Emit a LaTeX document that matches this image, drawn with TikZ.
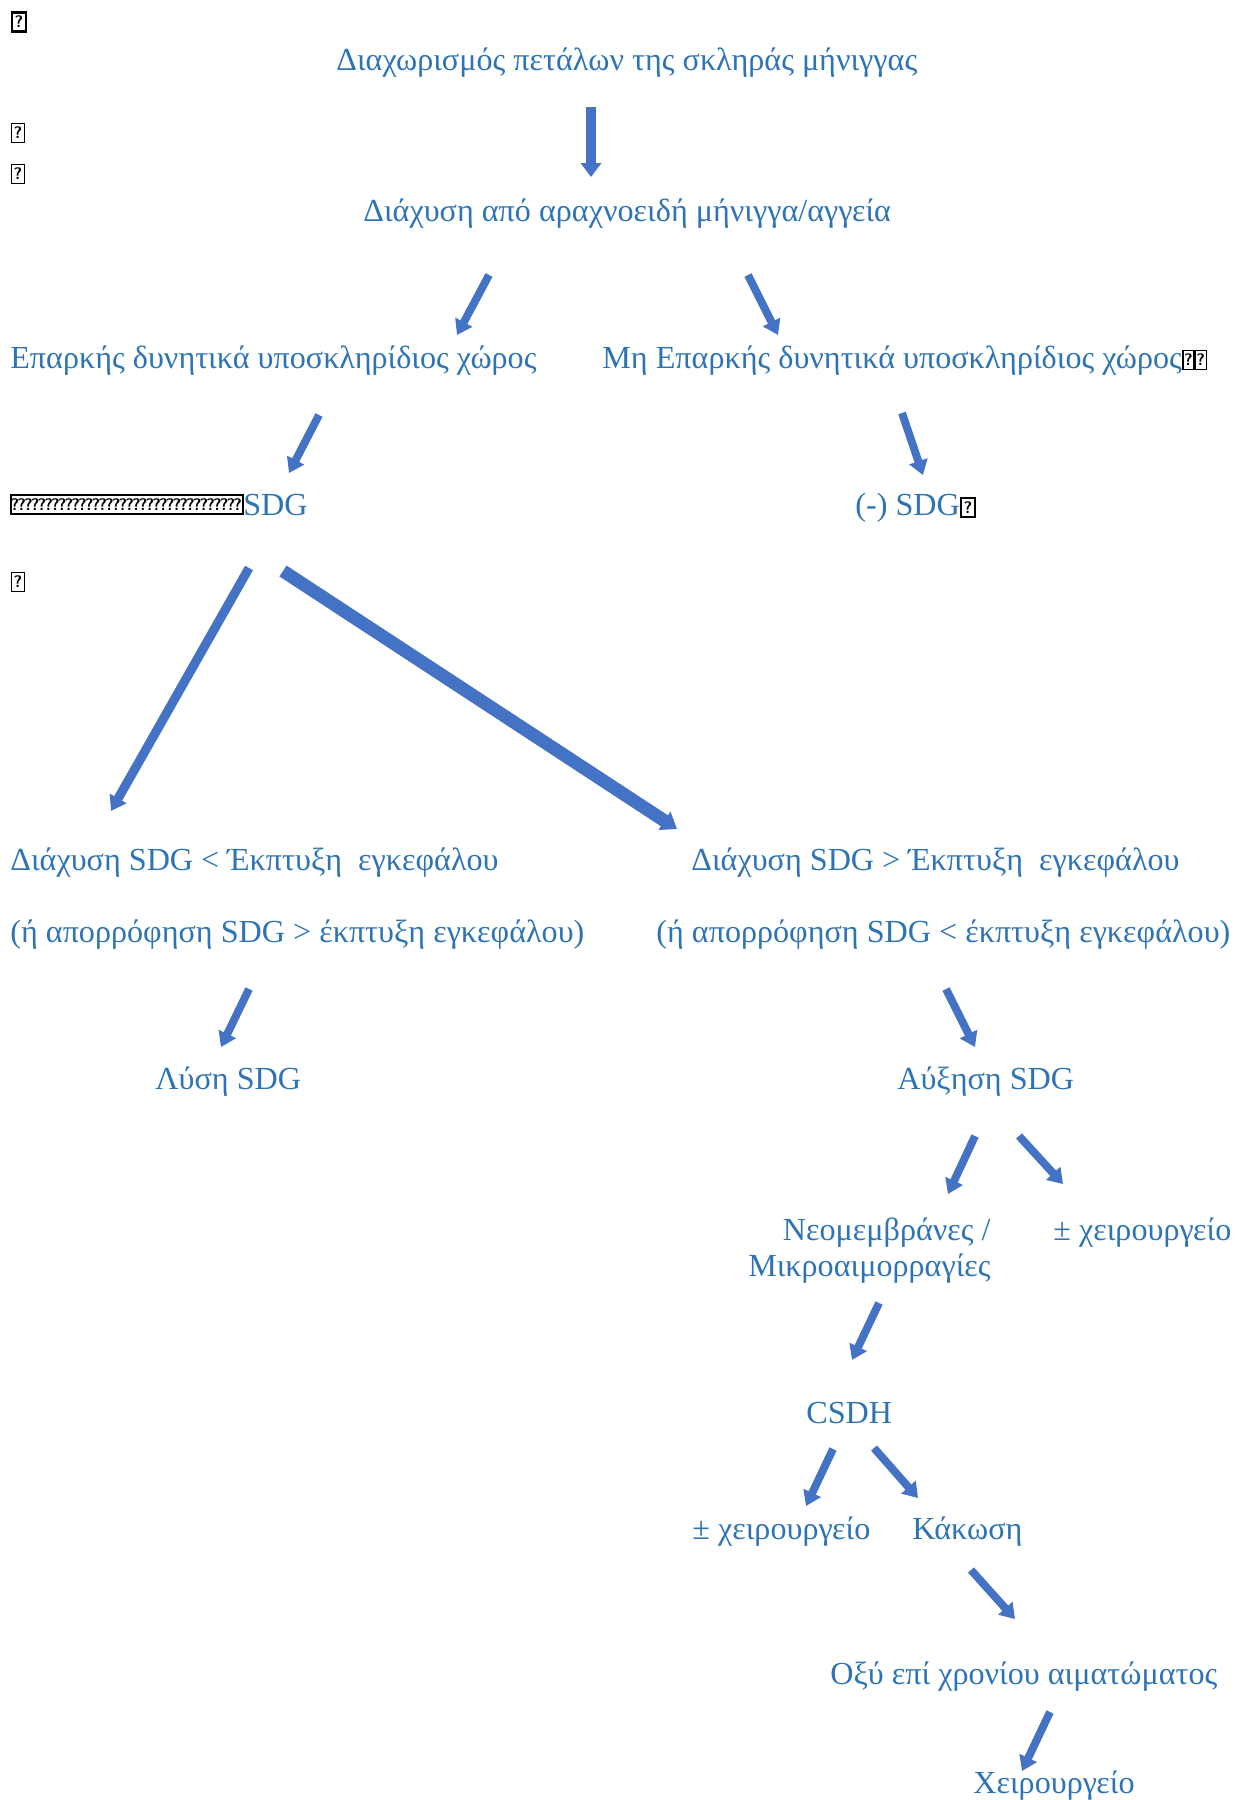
\documentclass[tikz,border=0pt]{standalone}
\usepackage{fontspec}
\setmainfont{Liberation Serif}
\usetikzlibrary{arrows.meta}
\definecolor{txtblue}{HTML}{2E74B5}
\definecolor{arrblue}{HTML}{4472C4}
\tikzset{
  lbl/.style={text=txtblue, font=\fontsize{18.3}{20.5}\selectfont, inner sep=0pt, anchor=base west},
  arr/.style={draw=arrblue, line width=4.5pt, -{Triangle[width=0.37cm,length=0.29cm]}},
  bigarr/.style={arr, line width=#1},
  qbox/.style={draw=black, line width=0.7pt, inner sep=0pt, minimum width=0.27cm, minimum height=0.38cm,
    font=\sffamily\bfseries\fontsize{9.5}{9.5}\selectfont},
  qmark/.style={inner sep=0pt, font=\sffamily\bfseries\fontsize{9.5}{9.5}\selectfont},
}
\begin{document}
\begin{tikzpicture}[x=0.02cm, y=-0.02cm]
\useasboundingbox (0,0) rectangle (1244,1800);
% missing-glyph boxes
\node[qbox, line width=1.3pt] (q1) at (19,22) {?};
\node[qbox] (q2) at (18,133) {?};
\node[qbox] (q3) at (18,174) {?};
\node[qbox] (q4) at (18,582) {?};
% texts
\node[lbl] (title) at (336,70) {Διαχωρισμός πετάλων της σκληράς μήνιγγας};
\node[lbl] (diax) at (363,221) {Διάχυση από αραχνοειδή μήνιγγα/αγγεία};
\node[lbl] (epark) at (10,368) {Επαρκής δυνητικά υποσκληρίδιος χώρος};
\node[lbl] (mhepark) at (602,368) {Μη Επαρκής δυνητικά υποσκληρίδιος χώρος};
\node[qbox, anchor=west, minimum width=0.22cm] (q5) at (mhepark.east) {?};
\node[qbox, anchor=west, minimum width=0.22cm] (q6) at (q5.east) {?};
\draw[line width=0.9pt] (11,495) rectangle (243,514);
\foreach \i in {0,...,33}
  \node[qmark] at (15+\i*6.75,505) {?};
\node[lbl] (sdg) at (243,515) {SDG};
\node[lbl] (neg) at (855,515) {(-) SDG};
\node[qbox, anchor=west, line width=1.3pt] (q7) at (neg.east) {?};
\node[lbl] (less1) at (10,870) {Διάχυση SDG < Έκπτυξη\ \ εγκεφάλου};
\node[lbl] (less2) at (10,942) {(ή απορρόφηση SDG > έκπτυξη εγκεφάλου)};
\node[lbl] (more1) at (691,870) {Διάχυση SDG > Έκπτυξη\ \ εγκεφάλου};
\node[lbl] (more2) at (656,942) {(ή απορρόφηση SDG < έκπτυξη εγκεφάλου)};
\node[lbl] (lysi) at (155,1089) {Λύση SDG};
\node[lbl] (afxisi) at (897,1089) {Αύξηση SDG};
\node[lbl, anchor=base east, align=right] (neo) at (991,1276) {Νεομεμβράνες /\\Μικροαιμορραγίες};
\node[lbl] (xeir1) at (1053,1240) {± χειρουργείο};
\node[lbl] (csdh) at (806,1423) {CSDH};
\node[lbl] (xeir2) at (692,1539) {± χειρουργείο};
\node[lbl] (kak) at (912,1539) {Κάκωση};
\node[lbl] (oxy) at (830,1684) {Οξύ επί χρονίου αιματώματος};
\node[lbl] (xeirourg) at (973,1793) {Χειρουργείο};
% arrow ends
\coordinate (title-o) at (591,107);   \coordinate (diax-i) at (591,177);
\coordinate (diax-ol) at (489,275);   \coordinate (epark-i) at (457,335);
\coordinate (diax-or) at (748,275);   \coordinate (mhepark-i) at (778,335);
\coordinate (epark-o) at (319,415);   \coordinate (sdg-i) at (289,473);
\coordinate (mhepark-o) at (902,413); \coordinate (neg-i) at (923,475);
\coordinate (sdg-ol) at (249,568);    \coordinate (less-i) at (111,811);
\coordinate (sdg-or) at (283,571);    \coordinate (more-i) at (677,829);
\coordinate (less-o) at (249,989);    \coordinate (lysi-i) at (221,1047);
\coordinate (more-o) at (946,989);    \coordinate (afxisi-i) at (975,1047);
\coordinate (afxisi-ol) at (975,1136); \coordinate (neo-i) at (948,1194);
\coordinate (afxisi-or) at (1019,1136); \coordinate (xeir1-i) at (1063,1184);
\coordinate (neo-o) at (879,1303);    \coordinate (csdh-i) at (852,1360);
\coordinate (csdh-ol) at (833,1449);  \coordinate (xeir2-i) at (806,1506);
\coordinate (csdh-or) at (874,1448);  \coordinate (kak-i) at (918,1498);
\coordinate (kak-o) at (971,1570);    \coordinate (oxy-i) at (1015,1619);
\coordinate (oxy-o) at (1050,1712);   \coordinate (xeirourg-i) at (1022,1771);
% arrows
\draw[arr, line width=5.7pt, -{Triangle[width=0.4cm,length=0.28cm]}] (title-o) -- (diax-i);
\draw[arr] (diax-ol) -- (epark-i);
\draw[arr] (diax-or) -- (mhepark-i);
\draw[arr] (epark-o) -- (sdg-i);
\draw[arr] (mhepark-o) -- (neg-i);
\draw[bigarr=5.2pt] (sdg-ol) -- (less-i);
\draw[bigarr=7.4pt, -{Triangle[width=0.42cm,length=0.3cm]}] (sdg-or) -- (more-i);
\draw[arr] (less-o) -- (lysi-i);
\draw[arr] (more-o) -- (afxisi-i);
\draw[arr] (afxisi-ol) -- (neo-i);
\draw[arr] (afxisi-or) -- (xeir1-i);
\draw[arr] (neo-o) -- (csdh-i);
\draw[arr] (csdh-ol) -- (xeir2-i);
\draw[arr] (csdh-or) -- (kak-i);
\draw[arr] (kak-o) -- (oxy-i);
\draw[arr] (oxy-o) -- (xeirourg-i);
\end{tikzpicture}
\end{document}
